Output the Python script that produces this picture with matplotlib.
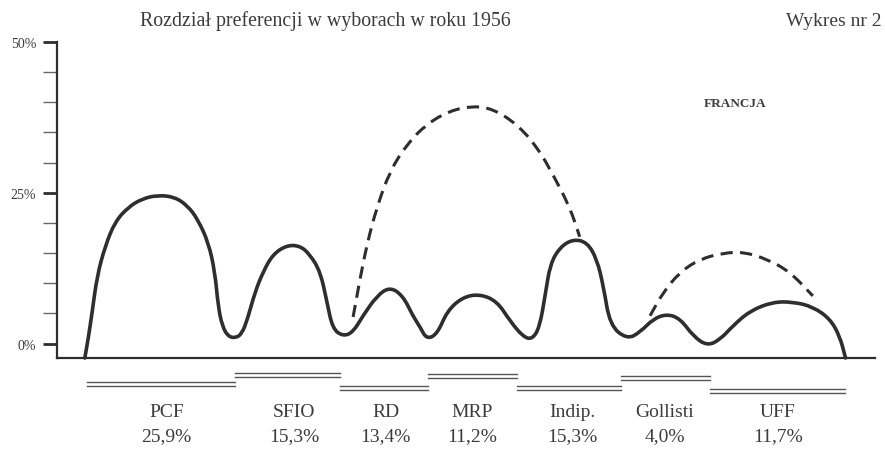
import numpy as np
import matplotlib
matplotlib.use("Agg")
import matplotlib.pyplot as plt
from matplotlib.path import Path
from matplotlib.patches import PathPatch

# --- data (x: position along axis 0-100, y: %) ---
solid_x = [3.4, 3.8, 4.3, 4.9, 5.9, 7.1, 8.7, 10.4, 12.3, 14.4, 16.0, 17.2, 18.5,
           19.3, 19.7, 20.2, 20.9, 21.8, 22.6, 23.3, 24.2, 25.2, 26.4, 28.1, 29.7,
           30.9, 32.2, 33.0, 33.7, 35.0, 36.2, 37.4, 39.1, 40.7, 42.3, 43.5, 44.4,
           45.2, 46.5, 47.7, 49.6, 51.7, 53.8, 55.4, 57.0, 58.1, 59.0, 59.7, 60.3,
           61.5, 63.1, 64.8, 66.0, 66.8, 67.6, 69.7, 71.3, 72.9, 74.6, 76.2,
           77.8, 79.5, 81.1, 82.6, 84.7, 87.5, 90.0, 92.4, 94.5, 95.7, 96.4]
solid_y = [-2.4, 0.7, 5.2, 11.2, 16.2, 20.2, 22.6, 24.0, 24.6, 24.3, 22.8, 20.6, 16.8,
           11.9, 6.2, 2.9, 1.2, 0.9, 1.6, 4.1, 8.5, 11.9, 14.8, 16.3, 16.2,
           14.8, 11.9, 6.9, 2.4, 1.2, 1.9, 4.6, 7.9, 9.4, 7.9, 4.6, 2.7,
           0.7, 1.6, 5.4, 7.7, 8.2, 7.0, 3.7, 1.1, 0.7, 2.7, 8.2, 13.2,
           16.0, 17.3, 16.8, 14.0, 9.5, 3.0, 0.7, 1.9, 4.1, 4.9, 4.1,
           1.2, -0.4, 0.7, 2.9, 5.4, 6.9, 6.9, 6.1, 4.1, 1.2, -2.4]

# dashed arc RD-MRP-Indip.
dash1_x = [36.2, 37.0, 37.9, 39.1, 40.7, 42.8, 45.2, 48.0, 50.9, 53.3, 56.2, 58.7,
           60.6, 62.7, 63.9]
dash1_y = [4.4, 10.4, 16.5, 22.6, 28.6, 33.1, 36.4, 38.6, 39.4, 38.9, 36.4, 32.6,
           28.1, 22.6, 17.7]

# dashed arc Gollisti-UFF
dash2_x = [72.5, 74.1, 76.2, 78.6, 81.4, 83.9, 86.8, 89.6, 92.4]
dash2_y = [4.6, 8.5, 11.9, 14.0, 15.0, 15.2, 14.0, 11.9, 7.9]

parties = ["PCF", "SFIO", "RD", "MRP", "Indip.", "Gollisti", "UFF"]
shares = ["25,9%", "15,3%", "13,4%", "11,2%", "15,3%", "4,0%", "11,7%"]
label_x = [13.4, 29.0, 40.2, 50.7, 63.0, 74.3, 88.1]
seg_start = [3.7, 21.8, 34.6, 45.4, 56.2, 68.9, 79.8]
seg_end = [21.8, 34.6, 45.4, 56.2, 68.9, 79.8, 96.3]
seg_level = [-6.4, -4.9, -7.05, -5.1, -7.05, -5.4, -7.5]

INK = "#2e2e2e"
TXT = "#3c3c3c"

plt.rcParams["font.family"] = ["Liberation Serif", "DejaVu Serif"]


def smooth_path(xs, ys):
    """Quadratic B-spline through the read points, drawn as a Bezier path."""
    pts = np.column_stack([xs, ys])
    mids = (pts[:-1] + pts[1:]) / 2
    verts = [pts[0], mids[0]]
    codes = [Path.MOVETO, Path.LINETO]
    for i in range(1, len(pts) - 1):
        verts += [pts[i], mids[i]]
        codes += [Path.CURVE3, Path.CURVE3]
    verts.append(pts[-1])
    codes.append(Path.LINETO)
    return Path(verts, codes)


fig = plt.figure(figsize=(8.85, 4.52), dpi=100)
ax = fig.add_axes([57 / 885, 93 / 452, 818 / 885, 316 / 452])

ax.add_patch(PathPatch(smooth_path(solid_x, solid_y), fill=False, ec=INK, lw=2.6,
                       joinstyle="round", capstyle="round", clip_on=False))
for xs, ys in [(dash1_x, dash1_y), (dash2_x, dash2_y)]:
    ax.add_patch(PathPatch(smooth_path(xs, ys), fill=False, ec=INK, lw=2.2,
                           ls=(0, (4, 2.4)), clip_on=False))

# stepped double rules under the axis
for s, e, lev in zip(seg_start, seg_end, seg_level):
    ax.plot([s, e], [lev, lev], color="#555555", lw=1.0, clip_on=False)
    ax.plot([s, e], [lev - 0.65, lev - 0.65], color="#555555", lw=1.0, clip_on=False)

for x, name, share in zip(label_x, parties, shares):
    ax.text(x, -11.2, name, ha="center", va="center", fontsize=14, color=TXT)
    ax.text(x, -15.3, share, ha="center", va="center", fontsize=14, color=TXT)

ax.set_xlim(0, 100)
ax.set_ylim(-2.4, 50)
ax.spines["top"].set_visible(False)
ax.spines["right"].set_visible(False)
for side in ["left", "bottom"]:
    ax.spines[side].set_linewidth(1.6)
    ax.spines[side].set_color(INK)

ax.set_xticks([])
ax.set_yticks([0, 25, 50])
ax.set_yticklabels(["0%", "25%", "50%"])
ax.set_yticks(np.arange(5, 50, 5), minor=True)
ax.tick_params(axis="y", which="major", length=10, width=2.0, color=INK,
               labelsize=10, labelcolor=TXT, pad=5)
ax.tick_params(axis="y", which="minor", length=10, width=1.0, color="#666666")
ax.patch.set_alpha(0)

fig.text(140 / 885, 1 - 21 / 452, "Rozdział preferencji w wyborach w roku 1956",
         ha="left", va="center", fontsize=14.3, color=TXT)
fig.text(882 / 885, 1 - 22 / 452, "Wykres nr 2", ha="right", va="center",
         fontsize=14, color=TXT)
fig.text(735 / 885, 1 - 104 / 452, "FRANCJA", ha="center", va="center",
         fontsize=9.5, fontweight="bold", color=TXT)

fig.savefig("out.png", dpi=100)
